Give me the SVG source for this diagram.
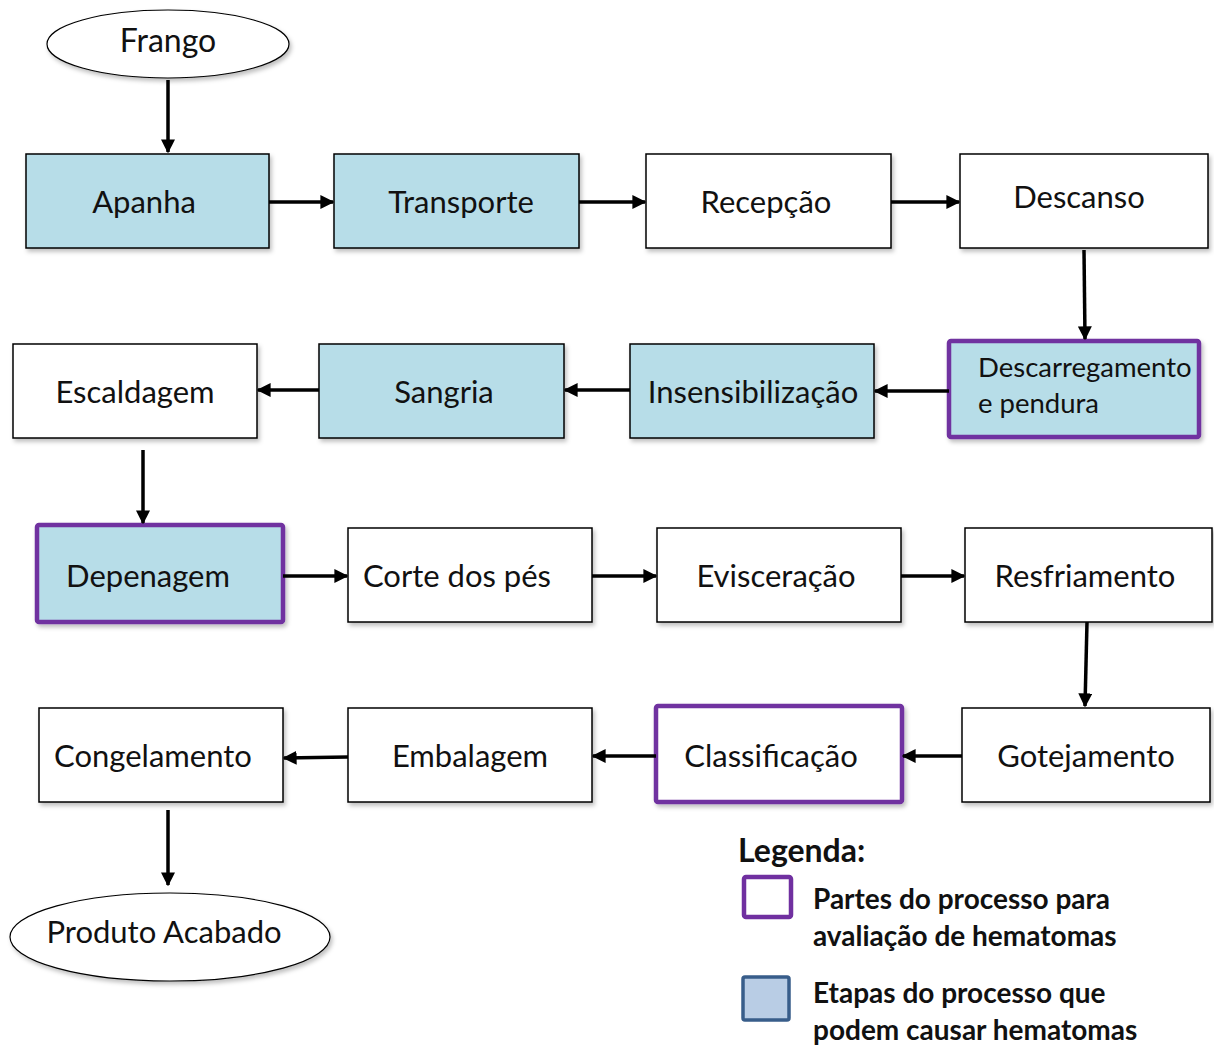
<svg xmlns="http://www.w3.org/2000/svg" width="1214" height="1045" viewBox="0 0 1214 1045">
<defs>
<marker id="ah" viewBox="0 0 10 10" refX="9" refY="5" markerWidth="4" markerHeight="4" orient="auto" markerUnits="strokeWidth">
<path d="M0,0 L10,5 L0,10 Z" fill="#000"/>
</marker>
<filter id="sh" x="-5%" y="-5%" width="115%" height="125%">
<feDropShadow dx="2" dy="3" stdDeviation="2" flood-color="#000" flood-opacity="0.25"/>
</filter>
</defs>
<style>
.box{stroke:#000;stroke-width:1.5;filter:url(#sh)}
.blue{fill:#b7dde8}
.white{fill:#fff}
.hl{stroke:#7030a0;stroke-width:4.5}
.ell{fill:#fff;stroke:#000;stroke-width:1.2;filter:url(#sh)}
text{font-family:"Lato","Liberation Sans",sans-serif;font-size:31px;fill:#111}
.c{text-anchor:middle}
.leg{font-weight:bold;font-size:28px}
.sm{font-size:27.5px}
.conn line{stroke:#000;stroke-width:3.5;marker-end:url(#ah)}
</style>
<rect width="1214" height="1045" fill="#fff"/>

<g id="frango"><ellipse class="ell" cx="168" cy="44" rx="121" ry="34"/><text class="c" x="168" y="52" style="font-size:32px">Frango</text></g>

<g id="apanha"><rect class="box blue" x="26" y="154" width="243" height="94"/><text class="c" x="144" y="213">Apanha</text></g>
<g id="transporte"><rect class="box blue" x="334" y="154" width="245" height="94"/><text class="c" x="461" y="213">Transporte</text></g>
<g id="recepcao"><rect class="box white" x="646" y="154" width="245" height="94"/><text class="c" x="766" y="213">Recepção</text></g>
<g id="descanso"><rect class="box white" x="960" y="154" width="248" height="94"/><text class="c" x="1079" y="208">Descanso</text></g>

<g id="escaldagem"><rect class="box white" x="13" y="344" width="244" height="94"/><text class="c" x="135" y="403">Escaldagem</text></g>
<g id="sangria"><rect class="box blue" x="319" y="344" width="245" height="94"/><text class="c" x="444" y="403">Sangria</text></g>
<g id="insensibilizacao"><rect class="box blue" x="630" y="344" width="244" height="94"/><text class="c" x="753" y="403">Insensibilização</text></g>
<g id="descarregamento"><rect class="box blue hl" x="949" y="341" width="250" height="96" rx="2"/><text class="sm" x="978" y="377">Descarregamento</text><text class="sm" x="978" y="413">e pendura</text></g>

<g id="depenagem"><rect class="box blue hl" x="37" y="525" width="246" height="97" rx="2"/><text class="c" x="148" y="587">Depenagem</text></g>
<g id="corte"><rect class="box white" x="348" y="528" width="244" height="94"/><text class="c" x="457" y="587">Corte dos pés</text></g>
<g id="evisceracao"><rect class="box white" x="657" y="528" width="244" height="94"/><text class="c" x="776" y="587">Evisceração</text></g>
<g id="resfriamento"><rect class="box white" x="965" y="528" width="247" height="94"/><text class="c" x="1085" y="587">Resfriamento</text></g>

<g id="congelamento"><rect class="box white" x="39" y="708" width="244" height="94"/><text class="c" x="153" y="767">Congelamento</text></g>
<g id="embalagem"><rect class="box white" x="348" y="708" width="244" height="94"/><text class="c" x="470" y="767">Embalagem</text></g>
<g id="classificacao"><rect class="box white hl" x="656" y="706" width="246" height="96" rx="2"/><text class="c" x="771" y="767">Classificação</text></g>
<g id="gotejamento"><rect class="box white" x="962" y="708" width="248" height="94"/><text class="c" x="1086" y="767">Gotejamento</text></g>

<g id="produto"><ellipse class="ell" cx="170" cy="937" rx="160" ry="44"/><text class="c" x="164" y="943">Produto Acabado</text></g>

<g id="connectors" class="conn">
<line x1="168" y1="80" x2="168" y2="152"/>
<line x1="269" y1="202" x2="333" y2="202"/>
<line x1="579" y1="202" x2="645" y2="202"/>
<line x1="891" y1="202" x2="959" y2="202"/>
<line x1="1084" y1="250" x2="1085" y2="339"/>
<line x1="949" y1="391" x2="875" y2="391"/>
<line x1="630" y1="390" x2="565" y2="390"/>
<line x1="319" y1="390" x2="258" y2="390"/>
<line x1="143" y1="450" x2="143" y2="523"/>
<line x1="283" y1="576" x2="347" y2="576"/>
<line x1="592" y1="576" x2="656" y2="576"/>
<line x1="901" y1="576" x2="964" y2="576"/>
<line x1="1087" y1="622" x2="1085" y2="706"/>
<line x1="962" y1="756" x2="903" y2="756"/>
<line x1="656" y1="756" x2="593" y2="756"/>
<line x1="348" y1="757" x2="284" y2="758"/>
<line x1="168" y1="810" x2="168" y2="885"/>
</g>

<g id="legend">
<text x="738" y="862" style="font-weight:bold;font-size:32px">Legenda:</text>
<rect x="744" y="877" width="47" height="40" rx="2" fill="#fff" stroke="#7030a0" stroke-width="4.5"/>
<text class="leg" x="813" y="909">Partes do processo para</text>
<text class="leg" x="813" y="946">avaliação de hematomas</text>
<rect x="743" y="977" width="46" height="43" rx="2" fill="#b9cde5" stroke="#385d8a" stroke-width="3.5"/>
<text class="leg" x="813" y="1003">Etapas do processo que</text>
<text class="leg" x="813" y="1040">podem causar hematomas</text>
</g>
</svg>
